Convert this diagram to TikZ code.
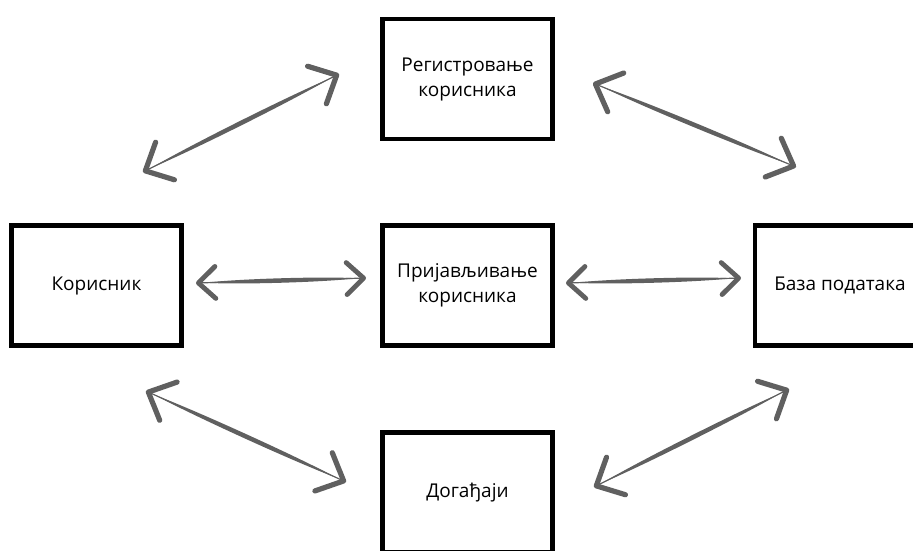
\documentclass[tikz,border=0pt]{standalone}
\usepackage{fontspec}
\setmainfont{Open Sans}
\usetikzlibrary{arrows.meta,calc}
\definecolor{arrowgray}{RGB}{96,96,96}
\tikzset{
  box/.style={draw=black, line width=4.5pt, minimum width=170pt, minimum height=120pt,
    inner sep=0pt, align=center, font=\fontsize{19}{25}\selectfont, fill=white},
  bigarrow/.style={draw=arrowgray, line width=1.2pt, line cap=round,
    {Straight Barb[length=22pt, width=42pt, line width=5.2pt, round]}-{Straight Barb[length=22pt, width=42pt, line width=5.2pt, round]}},
  smallarrow/.style={draw=arrowgray, line width=1.2pt, line cap=round,
    {Straight Barb[length=17pt, width=32pt, line width=4.8pt, round]}-{Straight Barb[length=17pt, width=32pt, line width=4.8pt, round]}},
  taper/.style={fill=arrowgray}
}
\begin{document}
\begin{tikzpicture}[x=1pt, y=-1pt]
\useasboundingbox (0,0) rectangle (913,550);
\clip (0,0) rectangle (913,550);
\node[box] (reg) at (467.5,79) {Регистровање\\корисника};
\node[box] (kor) at (96.5,285.5) {Корисник};
\node[box] (pri) at (467.5,285.5) {Пријављивање\\корисника};
\node[box] (baza) at (840,285.5) {База података};
\node[box] (dog) at (467.5,492.5) {Догађаји};
% arrow end points
\coordinate (a1s) at (143,172);
\coordinate (a1e) at (339,74);
\coordinate (a2s) at (593,83);
\coordinate (a2e) at (796,167);
\coordinate (a3s) at (196,283);
\coordinate (a3e) at (366,278);
\coordinate (a4s) at (566,283);
\coordinate (a4e) at (741,278);
\coordinate (a5s) at (146,391);
\coordinate (a5e) at (346,482);
\coordinate (a6s) at (594,487);
\coordinate (a6e) at (789,389);
\foreach \s/\e in {a1s/a1e,a2s/a2e,a3s/a3e,a4s/a4e,a5s/a5e,a6s/a6e}{
  \fill[taper] ($(\s)!9pt!(\e)$)
    .. controls ($(\s)!0.25!(\e)!3pt!90:(\e)$) and ($(\s)!0.75!(\e)!3pt!90:(\e)$) .. ($(\e)!9pt!(\s)$)
    .. controls ($(\s)!0.75!(\e)!3pt!-90:(\e)$) and ($(\s)!0.25!(\e)!3pt!-90:(\e)$) .. cycle;
}
\draw[bigarrow] (a1s) -- (a1e);
\draw[bigarrow] (a2s) -- (a2e);
\draw[smallarrow] (a3s) -- (a3e);
\draw[smallarrow] (a4s) -- (a4e);
\draw[bigarrow] (a5s) -- (a5e);
\draw[bigarrow] (a6s) -- (a6e);
\end{tikzpicture}
\end{document}
